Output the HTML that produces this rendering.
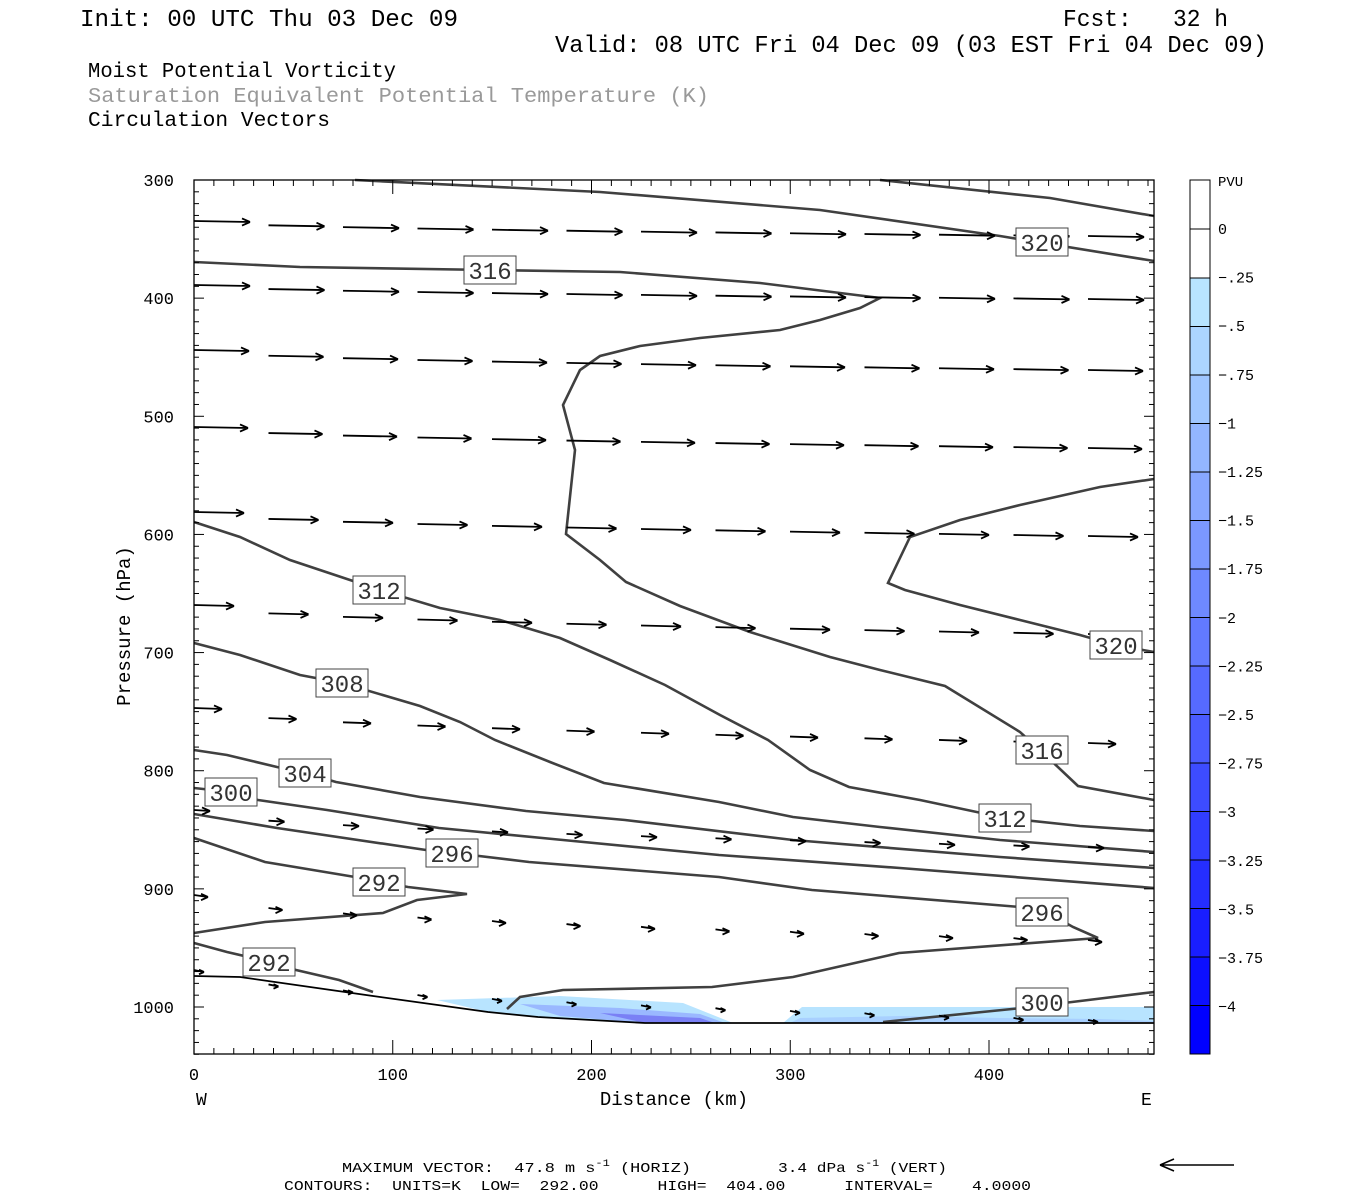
<!DOCTYPE html>
<html><head><meta charset="utf-8"><style>
body{margin:0;background:#fff;width:1350px;height:1200px;overflow:hidden}
svg{display:block}
text{font-family:"Liberation Mono",monospace}
</style></head><body>
<svg id="s" width="1350" height="1200" xmlns="http://www.w3.org/2000/svg">
<text x="80" y="26" font-size="24" textLength="378" lengthAdjust="spacingAndGlyphs">Init: 00 UTC Thu 03 Dec 09</text>
<text x="1063" y="26" font-size="24" textLength="165" xml:space="preserve" lengthAdjust="spacingAndGlyphs">Fcst:   32 h</text>
<text x="555" y="52" font-size="24" textLength="712" lengthAdjust="spacingAndGlyphs">Valid: 08 UTC Fri 04 Dec 09 (03 EST Fri 04 Dec 09)</text>
<text x="88" y="77" font-size="21" textLength="308" lengthAdjust="spacingAndGlyphs">Moist Potential Vorticity</text>
<text x="88" y="102" font-size="21" fill="#999" textLength="621" lengthAdjust="spacingAndGlyphs">Saturation Equivalent Potential Temperature (K)</text>
<text x="88" y="126" font-size="21" textLength="242" lengthAdjust="spacingAndGlyphs">Circulation Vectors</text>
<g id="g"></g>
<text x="130" y="626" font-size="19" transform="rotate(-90 130 626)" text-anchor="middle">Pressure (hPa)</text>
<text x="674" y="1105" font-size="19" text-anchor="middle">Distance (km)</text>
<text x="196" y="1105" font-size="18">W</text>
<text x="1141" y="1105" font-size="18">E</text>
<text x="342" y="1172" font-size="14" textLength="349" xml:space="preserve" lengthAdjust="spacingAndGlyphs">MAXIMUM VECTOR:  47.8 m s<tspan dy="-6" font-size="10">-1</tspan><tspan dy="6"> (HORIZ)</tspan></text>
<text x="778" y="1172" font-size="14" textLength="169" lengthAdjust="spacingAndGlyphs">3.4 dPa s<tspan dy="-6" font-size="10">-1</tspan><tspan dy="6"> (VERT)</tspan></text>
<text x="284" y="1190" font-size="14" xml:space="preserve" textLength="747" lengthAdjust="spacingAndGlyphs">CONTOURS:  UNITS=K  LOW=  292.00      HIGH=  404.00      INTERVAL=    4.0000</text>
<path d="M1234 1165 H1160 M1160 1165 l14 -6 M1160 1165 l14 6" stroke="#000" stroke-width="1.5" fill="none"/>
</svg>
<script>
const g=document.getElementById('g');let h='';
const L=194,R=1154,T=180,B=1054;
const py=p=>180+(p-300)*827/700, px=k=>194+k*1.9875;
h+=`<polygon points="437,1000 560,996 683,1003 733,1023 645,1023 538,1017 488,1012" fill="#b8e4ff"/>`;
h+=`<polygon points="520,1004 620,1008 700,1014 725,1023 645,1023 560,1016" fill="#9ab8ff"/>`;
h+=`<polygon points="600,1013 700,1018 715,1023 645,1023" fill="#7a80f5"/>`;
h+=`<polygon points="783,1023 802,1007 1154,1007 1154,1022" fill="#b8e4ff"/>`;
h+=`<polygon points="800,1018 900,1016 1000,1018 1100,1019 1154,1021 1154,1022 790,1023" fill="#a8d0ff"/>`;
const cb0=[184,228,255],cb1=[0,0,255];
h+=`<rect x="1190" y="180" width="20" height="98" fill="#fff" stroke="#000"/>`;
for(let i=0;i<16;i++){const t=i/15;const c=cb0.map((v,j)=>Math.round(v+(cb1[j]-v)*t));const y=278+i*48.5;
h+=`<rect x="1190" y="${y}" width="20" height="48.5" fill="rgb(${c})" stroke="#000" stroke-width="1"/>`;}
h+=`<line x1="1190" y1="229" x2="1210" y2="229" stroke="#000"/>`;
h+=`<text x="1218" y="186" font-size="14">PVU</text>`;
const lab=['0','-.25','-.5','-.75','-1','-1.25','-1.5','-1.75','-2','-2.25','-2.5','-2.75','-3','-3.25','-3.5','-3.75','-4'];
lab.forEach((s,i)=>{h+=`<text x="1218" y="${234+i*48.6}" font-size="15">${s.replace('-','\u2212')}</text>`});
const C=[
[[355,180],[600,192],[820,210],[1000,236],[1154,261]],
[[880,180],[1050,198],[1154,216]],
[[194,262],[300,267],[490,270],[620,272],[760,283],[840,293],[880,298],[860,308],[820,320],[780,330],[700,338],[640,346],[600,356],[580,370],[563,405],[575,450],[566,534],[600,560],[626,582],[680,606],[750,632],[830,657],[880,670],[945,686],[1020,732],[1042,752],[1078,786],[1154,800]],
[[1154,479],[1100,487],[1020,505],[960,520],[910,537],[888,583],[905,590],[960,605],[1020,620],[1080,635],[1115,645],[1154,652]],
[[194,522],[240,537],[290,560],[380,590],[440,608],[500,620],[560,638],[610,660],[665,685],[720,715],[768,740],[810,770],[849,787],[920,800],[1005,818],[1080,826],[1154,831]],
[[194,643],[240,655],[300,675],[342,683],[420,706],[460,722],[495,740],[550,762],[604,783],[719,802],[793,817],[880,827],[1000,840],[1154,852]],
[[194,750],[227,755],[277,767],[305,773],[336,782],[420,797],[526,811],[625,820],[793,840],[1000,857],[1154,868]],
[[194,788],[231,792],[258,800],[327,810],[439,828],[563,840],[719,855],[900,868],[1154,888]],
[[194,814],[277,828],[426,850],[454,853],[529,862],[719,877],[812,890],[1020,907],[1048,913],[1073,927],[1098,938],[899,953],[793,977],[712,987],[563,990],[520,997],[507,1009]],
[[194,838],[265,862],[355,877],[408,887],[467,894],[417,900],[383,913],[265,922],[194,933]],
[[194,943],[227,952],[270,962],[296,970],[339,980],[373,992]],
[[883,1022],[1022,1008],[1072,1002],[1154,992]]];
C.forEach(c=>{h+=`<polyline points="${c.join(' ')}" fill="none" stroke="#404040" stroke-width="2.6"/>`});
h+=`<polyline points="194,976 240,977 373,996 488,1012 538,1017 645,1023 1154,1023" fill="none" stroke="#000" stroke-width="1.8"/>`;
const rows=[[221,236,56],[285,299,56],[350,370,55],[427,448,54],[512,536,50],[605,634,40],[708,743,28],[810,847,16],[895,940,14],[970,1020,10]];
rows.forEach(([y0,y1,len],ri)=>{for(let i=0;i<13;i++){const x=194+i*74.5;if(x+len>1156)continue;const y=y0+(y1-y0)*Math.sqrt(i/12);
const dy=ri>=8?2:1;const x2=x+len,y2=y+dy;const hs=Math.min(8,len*0.5);
h+=`<path d="M${x} ${y} L${x2} ${y2} M${x2} ${y2} l${-hs} ${-hs*0.45} M${x2} ${y2} l${-hs} ${hs*0.45}" stroke="#000" stroke-width="1.8" fill="none"/>`;}});
[[490,270,'316'],[1042,242,'320'],[379,590,'312'],[1116,645,'320'],[342,683,'308'],[1042,750,'316'],[305,773,'304'],[231,792,'300'],[1005,818,'312'],[452,853,'296'],[379,882,'292'],[1042,912,'296'],[269,962,'292'],[1042,1002,'300']].forEach(([x,y,s])=>{
h+=`<rect x="${x-26}" y="${y-14}" width="52" height="28" fill="#fff" stroke="#444"/><text x="${x}" y="${y+9}" font-size="24" text-anchor="middle" fill="#333">${s}</text>`});
h+=`<rect x="${L}" y="${T}" width="${R-L}" height="${B-T}" fill="none" stroke="#000" stroke-width="1.3"/>`;
for(let p=300;p<=1040;p+=10){const y=py(p);const m=p%100==0;const w=m?10:5;
h+=`<line x1="${L}" y1="${y}" x2="${L+w}" y2="${y}" stroke="#000"/><line x1="${R}" y1="${y}" x2="${R-w}" y2="${y}" stroke="#000"/>`;
if(m)h+=`<text x="174" y="${y+6}" font-size="17" text-anchor="end">${p}</text>`;}
for(let k=0;k<=483;k+=10){const x=px(k);const m=k%100==0;const w=m?14:6;
h+=`<line x1="${x}" y1="${B}" x2="${x}" y2="${B-w}" stroke="#000"/><line x1="${x}" y1="${T}" x2="${x}" y2="${T+w}" stroke="#000"/>`;
if(m)h+=`<text x="${x}" y="${B+26}" font-size="17" text-anchor="middle">${k}</text>`;}
g.innerHTML=h;
</script>
</body></html>
